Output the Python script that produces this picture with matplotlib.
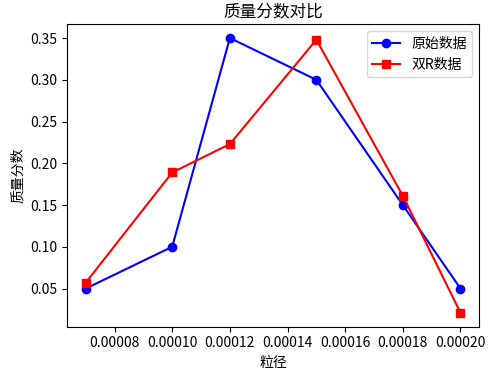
import matplotlib
matplotlib.use("Agg")
import matplotlib.pyplot as plt

plt.rcParams['font.family'] = ['Noto Sans CJK SC', 'DejaVu Sans']
plt.rcParams['axes.unicode_minus'] = False

x = [0.00007, 0.00010, 0.00012, 0.00015, 0.00018, 0.00020]
orig = [0.05, 0.10, 0.35, 0.30, 0.15, 0.05]
dual_r = [0.057, 0.189, 0.223, 0.348, 0.161, 0.021]

fig, ax = plt.subplots(figsize=(4.89, 3.74), dpi=100)
ax.plot(x, orig, 'o-', color='blue', label='原始数据')
ax.plot(x, dual_r, 's-', color='red', label='双R数据')
ax.set_title('质量分数对比')
ax.set_xlabel('粒径')
ax.set_ylabel('质量分数')
ax.legend()
fig.subplots_adjust(left=0.137, right=0.98, top=0.935, bottom=0.127)
fig.savefig('out.png', dpi=100)
